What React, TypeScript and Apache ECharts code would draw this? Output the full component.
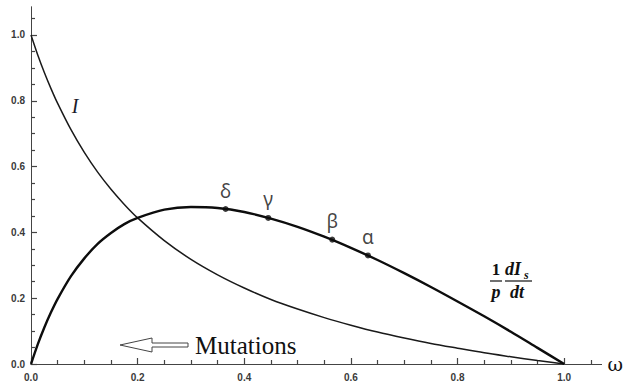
import React, { useEffect, useRef } from "react";
import * as echarts from "echarts";

// omega grid
const omega = [0, 0.0125, 0.025, 0.0375, 0.05, 0.075, 0.1, 0.125, 0.15, 0.175, 0.2, 0.25, 0.3, 0.35, 0.4, 0.45, 0.5, 0.55, 0.6, 0.65, 0.7, 0.75, 0.8, 0.85, 0.9, 0.95, 1.0];
// I curve
const iValues = [1.0, 0.94, 0.886, 0.837, 0.792, 0.712, 0.643, 0.583, 0.531, 0.485, 0.444, 0.375, 0.318, 0.271, 0.231, 0.196, 0.167, 0.141, 0.118, 0.097, 0.079, 0.0625, 0.048, 0.034, 0.022, 0.0104, 0];
// (1/p) dIs/dt curve
const rateValues = [0, 0.059, 0.111, 0.157, 0.198, 0.267, 0.321, 0.365, 0.398, 0.425, 0.444, 0.469, 0.477, 0.474, 0.462, 0.442, 0.417, 0.387, 0.353, 0.316, 0.276, 0.234, 0.19, 0.145, 0.098, 0.049, 0];
// marked points
const pointLabels = ["δ", "γ", "β", "α"];
const pointX = [0.365, 0.445, 0.565, 0.632];
const pointY = [0.471, 0.444, 0.378, 0.33];
// axis ticks
const majorTicks = [0, 0.2, 0.4, 0.6, 0.8, 1.0];
const minorTicks = [0.05, 0.1, 0.15, 0.25, 0.3, 0.35, 0.45, 0.5, 0.55, 0.65, 0.7, 0.75, 0.85, 0.9, 0.95, 1.05];

const AXIS_COLOR = "#444";

export default function App() {
  const ref = useRef<HTMLDivElement>(null);
  useEffect(() => {
    if (!ref.current) return;
    const chart = echarts.init(ref.current, undefined, { renderer: "svg" });
    const labelStyle = {
      fontFamily: "Liberation Sans, Arial, sans-serif",
      fontWeight: "bold" as const,
      fontSize: 10,
      color: "#3a3a3a",
    };
    const fmt = (v: number) => v.toFixed(1);
    const X_MAX = 1.07;
    const Y_MAX = 1.085;
    const tickAxis = (max: number, values: number[], len: number, extra: any) => ({
      type: "value",
      min: 0,
      max,
      axisLine: { show: true, onZero: false, lineStyle: { color: AXIS_COLOR, width: 1 } },
      axisTick: { show: true, inside: true, length: len, customValues: values, lineStyle: { color: AXIS_COLOR, width: 1.2 } },
      axisLabel: { show: false },
      splitLine: { show: false },
      ...extra,
    });
    chart.setOption({
      animation: false,
      backgroundColor: "#ffffff",
      grid: { left: 31, right: 22, top: 7, bottom: 20, containLabel: false },
      xAxis: [
        tickAxis(X_MAX, majorTicks, 6, {
          position: "bottom",
          name: "ω",
          nameLocation: "end",
          nameGap: 6,
          nameTextStyle: { fontFamily: "DejaVu Serif, serif", fontSize: 19, color: "#111", verticalAlign: "middle", padding: [0, 0, 4, 0] },
          axisLabel: { ...labelStyle, show: true, margin: 8, customValues: majorTicks, formatter: fmt },
        }),
        tickAxis(X_MAX, minorTicks, 4, { position: "bottom" }),
      ],
      yAxis: [
        tickAxis(Y_MAX, majorTicks, 6, {
          position: "left",
          axisLabel: { ...labelStyle, show: true, margin: 6, customValues: majorTicks, formatter: fmt },
        }),
        tickAxis(Y_MAX, minorTicks, 4, { position: "left" }),
      ],
      series: [
        {
          type: "line",
          xAxisIndex: 0,
          yAxisIndex: 0,
          data: omega.map((w, i) => [w, iValues[i]]),
          smooth: 0.3,
          showSymbol: false,
          lineStyle: { color: "#1a1a1a", width: 1.5 },
          z: 2,
        },
        {
          type: "line",
          xAxisIndex: 0,
          yAxisIndex: 0,
          data: omega.map((w, i) => [w, rateValues[i]]),
          smooth: 0.3,
          showSymbol: false,
          lineStyle: { color: "#0d0d0d", width: 2.4 },
          z: 3,
        },
        {
          type: "scatter",
          xAxisIndex: 0,
          yAxisIndex: 0,
          data: pointX.map((x, i) => ({ value: [x, pointY[i]], name: pointLabels[i] })),
          symbol: "circle",
          symbolSize: 6,
          itemStyle: { color: "#0d0d0d" },
          label: {
            show: true,
            position: "top",
            distance: 6,
            formatter: (p: any) => p.name,
            fontFamily: "Noto Sans, DejaVu Sans, sans-serif",
            fontSize: 19,
            color: "#111",
          },
          z: 4,
        },
      ],
      graphic: [
        {
          type: "text",
          x: 75,
          y: 106,
          style: { text: "I", fontFamily: "Liberation Serif, serif", fontStyle: "italic", fontSize: 20, fill: "#1a1a2a", align: "center", verticalAlign: "middle" },
        },
        {
          type: "polygon",
          shape: { points: [[120, 345], [152, 338], [152, 343], [188, 343], [188, 347], [152, 347], [152, 352]] },
          style: { fill: "#ffffff", stroke: "#444", lineWidth: 1 },
        },
        {
          type: "text",
          x: 195,
          y: 345,
          style: { text: "Mutations", fontFamily: "Liberation Serif, serif", fontSize: 25, fill: "#111", align: "left", verticalAlign: "middle" },
        },
        // formula (1/p)(dIs/dt)
        {
          type: "text",
          x: 496,
          y: 269,
          style: { text: "1", fontFamily: "Liberation Serif, serif", fontWeight: "bold", fontSize: 17, fill: "#111", align: "center", verticalAlign: "middle" },
        },
        {
          type: "line",
          shape: { x1: 490, y1: 281, x2: 502, y2: 281 },
          style: { stroke: "#111", lineWidth: 1.2 },
        },
        {
          type: "text",
          x: 496,
          y: 292,
          style: { text: "p", fontFamily: "Liberation Serif, serif", fontWeight: "bold", fontStyle: "italic", fontSize: 18, fill: "#111", align: "center", verticalAlign: "middle" },
        },
        {
          type: "text",
          x: 505,
          y: 269,
          style: { text: "dI", fontFamily: "Liberation Serif, serif", fontWeight: "bold", fontStyle: "italic", fontSize: 18, fill: "#111", align: "left", verticalAlign: "middle" },
        },
        {
          type: "text",
          x: 524,
          y: 275,
          style: { text: "s", fontFamily: "Liberation Serif, serif", fontWeight: "bold", fontStyle: "italic", fontSize: 12, fill: "#111", align: "left", verticalAlign: "middle" },
        },
        {
          type: "line",
          shape: { x1: 505, y1: 281, x2: 532, y2: 281 },
          style: { stroke: "#111", lineWidth: 1.2 },
        },
        {
          type: "text",
          x: 517,
          y: 292,
          style: { text: "dt", fontFamily: "Liberation Serif, serif", fontWeight: "bold", fontStyle: "italic", fontSize: 18, fill: "#111", align: "center", verticalAlign: "middle" },
        },
      ],
    });
    return () => chart.dispose();
  }, []);
  return (
    <div
      ref={ref}
      style={{ position: "fixed", left: 0, top: 0, width: 626, height: 384, background: "#fff" }}
    />
  );
}
